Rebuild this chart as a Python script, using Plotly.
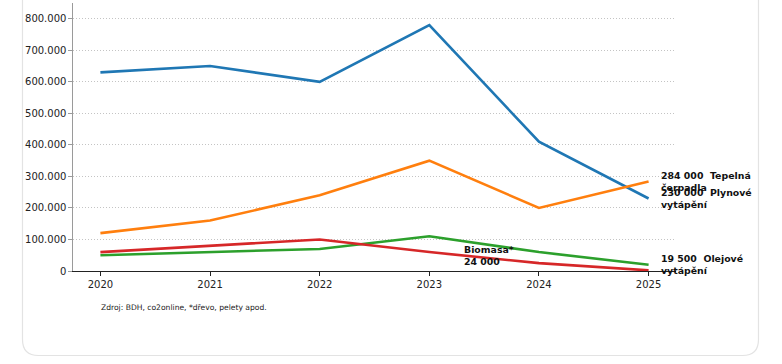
import plotly.graph_objects as go

years = [2020, 2021, 2022, 2023, 2024, 2025]
plyn = [630000, 650000, 600000, 780000, 410000, 230000]
tepelna = [120000, 160000, 240000, 350000, 200000, 284000]
biomasa = [50000, 60000, 70000, 110000, 60000, 20000]
olej = [60000, 80000, 100000, 60000, 25000, 2000]

y_ticks = [0, 100000, 200000, 300000, 400000, 500000, 600000, 700000, 800000]
y_tick_labels = ["0", "100.000", "200.000", "300.000", "400.000", "500.000",
                 "600.000", "700.000", "800.000"]

W, H = 782, 364
L, R, T, B = 73, 676, 3, 271

fig = go.Figure()
series = [
    ("Plynové vytápění", plyn, "#1f77b4"),
    ("Tepelná čerpadla", tepelna, "#ff7f0e"),
    ("Biomasa", biomasa, "#2ca02c"),
    ("Olejové vytápění", olej, "#d62728"),
]
for name, vals, col in series:
    fig.add_trace(go.Scatter(x=years, y=vals, mode="lines", name=name,
                             line=dict(color=col, width=2.6), showlegend=False))

def px(x):
    return (x - L) / (R - L)

def py(y):
    return (B - y) / (B - T)

# card outline with rounded corners
cl, cr, cb, ct, rad = 22.5, 758.5, 355.5, -20, 16
path = (f"M {px(cl)},{py(ct)} L {px(cl)},{py(cb - rad)} "
        f"Q {px(cl)},{py(cb)} {px(cl + rad)},{py(cb)} "
        f"L {px(cr - rad)},{py(cb)} "
        f"Q {px(cr)},{py(cb)} {px(cr)},{py(cb - rad)} "
        f"L {px(cr)},{py(ct)}")
fig.add_shape(type="path", path=path, xref="paper", yref="paper",
              line=dict(color="#e3e3e3", width=1.2), layer="below")

lab_font = dict(family="DejaVu Sans", size=9.4, color="#111111")
def add_label(x, y, text, xshift=0):
    fig.add_annotation(x=x, y=y, text=f"<b>{text}</b>", showarrow=False,
                       xanchor="left", yanchor="middle", align="left",
                       xshift=xshift, font=lab_font)

add_label(years[-1], tepelna[-1], "284 000  Tepelná<br>čerpadla", xshift=10)
add_label(years[-1], plyn[-1], "230 000  Plynové<br>vytápění", xshift=10)
add_label(years[-1], 19500, "19 500  Olejové<br>vytápění", xshift=10)
add_label(2023.3, 48000, "Biomasa*<br>24 000")

fig.add_annotation(x=px(99), y=py(307), xref="paper", yref="paper",
                   text="Zdroj: BDH, co2online, *dřevo, pelety apod.",
                   showarrow=False, xanchor="left", yanchor="middle",
                   font=dict(family="DejaVu Sans", size=7.6, color="#222222"))

fig.update_layout(
    width=W, height=H,
    margin=dict(l=L, r=W - R, t=T, b=H - B, pad=0),
    paper_bgcolor="white", plot_bgcolor="white",
    font=dict(family="DejaVu Sans", size=10, color="#222222"),
    xaxis=dict(range=[2019.75, 2025.25], tickvals=years,
               ticktext=[str(y) for y in years],
               showgrid=False, zeroline=False, showline=True,
               linecolor="#222222", linewidth=1.2,
               ticks="outside", ticklen=3.5, tickcolor="#222222",
               tickfont=dict(size=10, color="#222222")),
    yaxis=dict(range=[0, 850000], tickvals=y_ticks, ticktext=y_tick_labels,
               showgrid=True, gridcolor="#c4c4c4", griddash="1px,2px", gridwidth=0.8,
               zeroline=False, showline=True, linecolor="#9a9a9a",
               linewidth=1.2, ticks="outside", ticklen=3.5,
               tickcolor="#9a9a9a", tickfont=dict(size=10, color="#222222")),
)

fig.write_html("out.html", config={"displayModeBar": False},
               post_script="document.body.style.margin='0';document.body.style.padding='0';")
